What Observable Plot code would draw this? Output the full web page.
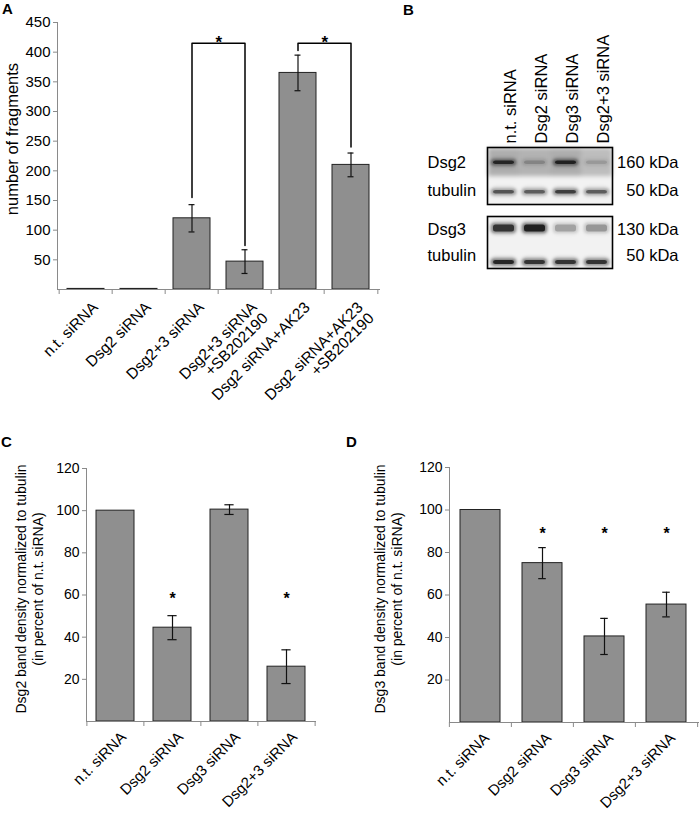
<!DOCTYPE html>
<html><head><meta charset="utf-8">
<script src="https://cdn.jsdelivr.net/npm/d3@7"></script>
<script src="https://cdn.jsdelivr.net/npm/@observablehq/plot@0.6"></script>
<style>
body{margin:0;background:#fff;}
#root{position:relative;width:700px;height:815px;font-family:"Liberation Sans",Arial,sans-serif;overflow:hidden;background:#fff}
.panel{position:absolute;left:0;top:0}
.panel svg{overflow:visible}
.lab{position:absolute;font-weight:bold;font-size:15px;line-height:1;color:#000}
</style></head><body><div id="root"></div>
<script>
// ---------- DATA ----------
// Panel A
const catsA = ["n.t. siRNA","Dsg2 siRNA","Dsg2+3 siRNA","Dsg2+3 siRNA\n+SB202190","Dsg2 siRNA+AK23","Dsg2 siRNA+AK23\n+SB202190"];
const meanA = [1, 1, 120, 47, 365, 210];
const errA  = [0, 0, 23, 20, 30, 20];
const ticksA = [50, 100, 150, 200, 250, 300, 350, 400, 450];
const bracketFrom = [catsA[2], catsA[4]];
const bracketTo   = [catsA[3], catsA[5]];
const bracketFromLow = [155, 403];
const bracketToLow   = [74, 240];
const bracketTop     = [415, 415];
// Panel B (western blot)
const lanesB = ["n.t. siRNA","Dsg2 siRNA","Dsg3 siRNA","Dsg2+3 siRNA"];
const rowsTop = ["Dsg2","tubulin"];
const kdaTop = ["160 kDa","50 kDa"];
const rowsBottom = ["Dsg3","tubulin"];
const kdaBottom = ["130 kDa","50 kDa"];
const dsg2Bg   = [0.28, 0.26, 0.28, 0.22];
const dsg2Band = [0.85, 0.22, 0.9, 0.15];
const tub1Band = [0.65, 0.6, 0.78, 0.6];
const dsg3Band = [0.85, 1.0, 0.28, 0.33];
const tub2Band = [0.95, 0.85, 0.85, 0.85];
// Panels C and D
const catsCD = ["n.t. siRNA","Dsg2 siRNA","Dsg3 siRNA","Dsg2+3 siRNA"];
const meanC = [100, 44.5, 100.5, 26];
const errC  = [0, 5.7, 2.3, 8];
const starsC = ["Dsg2 siRNA","Dsg2+3 siRNA"];
const starYC = 58;
const meanD = [100, 75, 40.5, 55.5];
const errD  = [0, 7.3, 8.5, 5.8];
const starsD = ["Dsg2 siRNA","Dsg3 siRNA","Dsg2+3 siRNA"];
const starYD = 89;
const ticksCD = [20, 40, 60, 80, 100, 120];
const titleA = "number of fragments";
const titleC = "Dsg2 band density normalized to tubulin\n(in percent of n.t. siRNA)";
const titleD = "Dsg3 band density normalized to tubulin\n(in percent of n.t. siRNA)";

// ---------- STYLE ----------
const FONT = '"Liberation Sans", Arial, sans-serif';
const BAR = "#8f8f8f", AX = "#8a8a8a", INK = "#111";
const root = document.getElementById("root");
function place(el, left, top) {
  const d = document.createElement("div");
  d.className = "panel"; d.style.left = left + "px"; d.style.top = top + "px";
  d.appendChild(el); root.appendChild(d);
}
function label(t, left, top) {
  const s = document.createElement("div"); s.className = "lab";
  s.style.left = left + "px"; s.style.top = top + "px"; s.textContent = t; root.appendChild(s);
}

function barChart({cats, mean, err, yMax, ticks, width, height, ml, mr, mt, mb, pad, fs, xfs, capW, lblDx, lblDy, title, titleDx, titleDy, titleFs, extra}) {
  const step = (width - ml - mr) / cats.length;
  const bw = step * (1 - pad);
  const data = cats.map((c, i) => ({cat: c, v: mean[i], e: err[i], lo: mean[i] - err[i], hi: mean[i] + err[i]}));
  const eb = data.filter(d => d.e > 0);
  const capInset = (bw - capW) / 2;
  return Plot.plot({
    width, height, marginLeft: ml, marginRight: mr, marginTop: mt, marginBottom: mb,
    style: {fontFamily: FONT, fontSize: fs + "px", color: "#000", background: "transparent", overflow: "visible"},
    x: {type: "band", domain: cats, paddingInner: pad, paddingOuter: pad / 2, axis: null, label: null},
    y: {domain: [0, yMax], axis: null, label: null},
    marks: [
      Plot.barY(data, {x: "cat", y: "v", fill: BAR, stroke: "#222", strokeWidth: 1}),
      Plot.ruleX(eb, {x: "cat", y1: "lo", y2: "hi", stroke: INK, strokeWidth: 1.2}),
      Plot.tickY(eb, {x: "cat", y: "hi", stroke: INK, strokeWidth: 1.2, insetLeft: capInset, insetRight: capInset}),
      Plot.tickY(eb, {x: "cat", y: "lo", stroke: INK, strokeWidth: 1.2, insetLeft: capInset, insetRight: capInset}),
      Plot.frame({anchor: "left", stroke: AX}),
      Plot.frame({anchor: "bottom", stroke: AX}),
      Plot.axisY({ticks, tickSize: 4, tickPadding: 3, stroke: AX, fill: "#000", fontSize: fs, label: null}),
      Plot.axisX({ticks: cats, tickSize: 5, tickFormat: () => "", stroke: AX, dx: -step / 2, label: null}),
      Plot.axisX({ticks: [cats[cats.length - 1]], tickSize: 5, tickFormat: () => "", stroke: AX, dx: step / 2, label: null}),
      Plot.text(cats, {x: d => d, frameAnchor: "bottom", rotate: -45, textAnchor: "end", lineAnchor: "top", dx: lblDx, dy: lblDy, fontSize: xfs, fill: "#000"}),
      Plot.text([title], {frameAnchor: "left", rotate: -90, lineAnchor: "top", textAnchor: "middle", dx: titleDx, dy: titleDy, fontSize: titleFs, lineHeight: 1.25, fill: "#000"}),
      ...(extra ? extra(step) : [])
    ]
  });
}

// ---------- PANEL A ----------
const brackets = bracketFrom.map((f, i) => ({from: f, to: bracketTo[i], fl: bracketFromLow[i], tl: bracketToLow[i], top: bracketTop[i]}));
const bracketPath = brackets.flatMap((b, i) => [
  {id: i, x: b.from, y: b.fl}, {id: i, x: b.from, y: b.top},
  {id: i, x: b.to, y: b.top}, {id: i, x: b.to, y: b.tl}
]);
place(barChart({
  cats: catsA, mean: meanA, err: errA, yMax: 450, ticks: ticksA,
  width: 385, height: 420, ml: 57, mr: 6, mt: 22, mb: 131, pad: 0.31, fs: 15, xfs: 15.5, capW: 6,
  lblDx: 5, lblDy: 11, title: titleA, titleDx: -54, titleDy: -17, titleFs: 16.5,
  extra: (step) => [
    Plot.line(bracketPath, {x: "x", y: "y", z: "id", stroke: "#000", strokeWidth: 1.5}),
    Plot.text(brackets, {x: "from", y: "top", text: () => "*", dx: step / 2, dy: -1, fontSize: 17, fontWeight: "bold", fill: "#000"})
  ]
}), 0, 0);

// ---------- PANEL C ----------
place(barChart({
  cats: catsCD, mean: meanC, err: errC, yMax: 120, ticks: ticksCD,
  width: 340, height: 375, ml: 86, mr: 25, mt: 28, mb: 94, pad: 0.34, fs: 14, xfs: 15, capW: 9,
  lblDx: 4, lblDy: 9, title: titleC, titleDx: -73, titleDy: -6, titleFs: 14,
  extra: () => [Plot.text(starsC, {x: d => d, y: () => starYC, text: () => "*", fontSize: 16, fontWeight: "bold", fill: "#000"})]
}), 0, 440);

// ---------- PANEL D ----------
place(barChart({
  cats: catsCD, mean: meanD, err: errD, yMax: 120, ticks: ticksCD,
  width: 350, height: 375, ml: 99, mr: 2, mt: 27, mb: 93, pad: 0.35, fs: 14, xfs: 15, capW: 8,
  lblDx: 2, lblDy: 9, title: titleD, titleDx: -77, titleDy: -6, titleFs: 14,
  extra: () => [Plot.text(starsD, {x: d => d, y: () => starYD, text: () => "*", fontSize: 16, fontWeight: "bold", fill: "#000"})]
}), 350, 440);

// ---------- PANEL B ----------
function blot({rows, kda, bg, bands, height, mt, mb, showLanes}) {
  const bgData = bg ? lanesB.map((l, i) => ({lane: l, row: rows[0], v: bg[i]})) : [];
  const rowH = (height - mt - mb) / rows.length;
  const bandMarks = [];
  bands.forEach(({row, vals, top, h}) => {
    const d = lanesB.map((l, i) => ({lane: l, row, v: vals[i]}));
    bandMarks.push(
      Plot.cell(d, {x: "lane", y: "row", fill: "#000", fillOpacity: d => d.v * 0.18, insetLeft: 1.5, insetRight: 1.5, insetTop: top - 3, insetBottom: rowH - top - h - 3, rx: 6, imageFilter: "blur(1.5px)"}),
      Plot.cell(d, {x: "lane", y: "row", fill: "#000", fillOpacity: d => d.v * 0.35, insetLeft: 3, insetRight: 3, insetTop: top - 1, insetBottom: rowH - top - h - 1, rx: 4, imageFilter: "blur(1px)"}),
      Plot.cell(d, {x: "lane", y: "row", fill: "#000", fillOpacity: d => d.v * 0.75, insetLeft: 5, insetRight: 5, insetTop: top + 0.5, insetBottom: rowH - top - h + 0.5, rx: 2.5, imageFilter: "blur(0.6px)"})
    );
  });
  return Plot.plot({
    width: 300, height, marginLeft: 87, marginRight: 88, marginTop: mt, marginBottom: mb,
    style: {fontFamily: FONT, fontSize: "16.5px", color: "#000", background: "transparent", overflow: "visible"},
    x: {type: "band", domain: lanesB, padding: 0, axis: null},
    y: {type: "band", domain: rows, padding: 0, axis: null},
    marks: [
      Plot.cell(rows, {y: d => d, fill: "#f2f2f2"}),
      Plot.cell(bgData, {x: "lane", y: "row", fill: "#000", fillOpacity: "v", imageFilter: "blur(2px)"}),
      ...bandMarks,
      Plot.frame({stroke: "#000", strokeWidth: 1.6}),
      Plot.text(rows, {y: d => d, frameAnchor: "left", textAnchor: "start", dx: -60, fontSize: 16.5, fill: "#000"}),
      Plot.text(rows, {y: d => d, text: (d, i) => kda[i], frameAnchor: "right", textAnchor: "end", dx: 66, fontSize: 16.5, fill: "#000"}),
      ...(showLanes ? [Plot.text(lanesB, {x: d => d, frameAnchor: "top", rotate: -90, textAnchor: "start", dy: -4, fontSize: 16.5, fill: "#000"})] : [])
    ]
  });
}
place(blot({rows: rowsTop, kda: kdaTop, bg: dsg2Bg, height: 210, mt: 147, mb: 6, showLanes: true,
  bands: [{row: "Dsg2", vals: dsg2Band, top: 12, h: 5}, {row: "tubulin", vals: tub1Band, top: 13.5, h: 5}]}), 400, 0);
place(blot({rows: rowsBottom, kda: kdaBottom, bg: null, height: 62, mt: 6, mb: 4, showLanes: false,
  bands: [{row: "Dsg3", vals: dsg3Band, top: 8, h: 8}, {row: "tubulin", vals: tub2Band, top: 17.5, h: 5}]}), 400, 210);

// ---------- PANEL LABELS ----------
label("A", 2, 1); label("B", 403, 2); label("C", 1, 434); label("D", 346, 434);
</script></body></html>
